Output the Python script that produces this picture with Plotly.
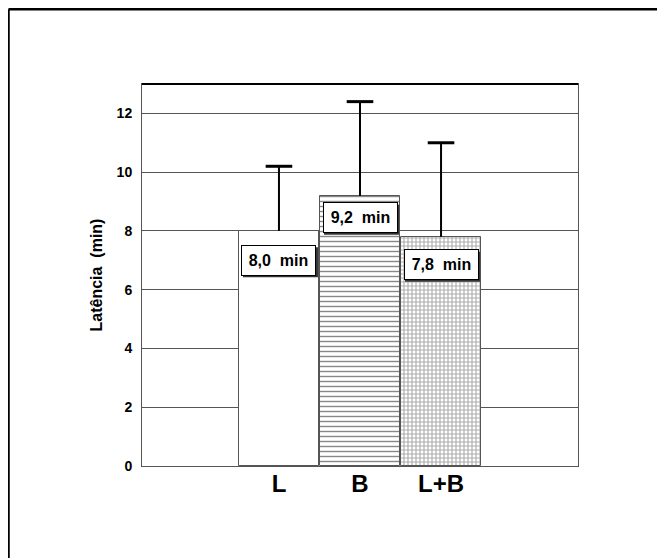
import plotly.graph_objects as go

categories = ["L", "B", "L+B"]
means = [8.0, 9.2, 7.8]
err_plus = [2.2, 3.2, 3.2]
labels = ["8,0  min", "9,2  min", "7,8  min"]
label_y = [7.0, 8.45, 6.85]
y_ticks = [0, 2, 4, 6, 8, 10, 12]

FONT = "Liberation Sans, Arial, Helvetica, sans-serif"

# page has an 8px body margin
W, H = 657, 550
L, R, T, B = 134, 87, 76, 92
pw, ph = W - L - R, H - T - B

fig = go.Figure()

fills = [
    dict(shape=""),
    dict(shape="-", size=5, solidity=0.28, fgcolor="#111111", bgcolor="white"),
    dict(shape="+", size=4, solidity=0.5, fgcolor="#5a5a5a", bgcolor="white"),
]
for i, c in enumerate(categories):
    fig.add_trace(go.Bar(
        x=[c], y=[means[i]], width=0.98,
        marker=dict(color="white", line=dict(color="#555555", width=1),
                    pattern=fills[i]),
        showlegend=False, hoverinfo="skip",
    ))

# upper error bars (one-sided, no cap at bar top)
for i, c in enumerate(categories):
    top = means[i] + err_plus[i]
    fig.add_trace(go.Scatter(
        x=[c, c], y=[means[i], top], mode="lines",
        line=dict(color="black", width=2), showlegend=False, hoverinfo="skip"))
    fig.add_trace(go.Scatter(
        x=[c], y=[top], mode="markers",
        marker=dict(symbol="line-ew-open", size=19, color="black",
                    line=dict(color="black", width=3)),
        showlegend=False, hoverinfo="skip"))

# label boxes with shadow
for i, c in enumerate(categories):
    fig.add_shape(type="rect", xref="x", yref="y", xsizemode="pixel", ysizemode="pixel",
                  xanchor=i, yanchor=label_y[i], x0=-36, x1=39, y0=-17, y1=13,
                  line=dict(width=0), fillcolor="#333333", layer="above")
    fig.add_annotation(x=c, y=label_y[i], text=labels[i], showarrow=False,
                       width=71, height=27,
                       font=dict(family=FONT, size=16, color="black", weight="bold"),
                       bgcolor="white", bordercolor="black", borderwidth=1, borderpad=1)

# outer frame (top and left edges)
fx = (0.5 - L) / pw
fy = (H - B - 1.2) / ph
fig.add_shape(type="line", xref="paper", yref="paper", x0=fx, x1=(W + 5 - L) / pw,
              y0=fy, y1=fy, line=dict(color="black", width=2.5))
fig.add_shape(type="line", xref="paper", yref="paper", x0=fx, x1=fx,
              y0=fy, y1=-(B + 5) / ph, line=dict(color="black", width=2.5))
# top border of plot
fig.add_shape(type="line", xref="paper", yref="paper", x0=0, x1=1, y0=1, y1=1,
              line=dict(color="black", width=2))

fig.update_layout(
    width=W, height=H,
    margin=dict(l=L, r=R, t=T, b=B),
    paper_bgcolor="white", plot_bgcolor="white",
    bargap=0,
    font=dict(family=FONT, color="black"),
    xaxis=dict(range=[-1.69, 3.69], showgrid=False, showline=True, linecolor="#555555",
               linewidth=1, mirror=True, ticks="", ticklen=0, ticklabelstandoff=-4,
               tickfont=dict(family=FONT, size=24, weight="bold")),
    yaxis=dict(range=[0, 13], tickvals=y_ticks, showgrid=True, gridcolor="#555555",
               gridwidth=1, showline=True, linecolor="#555555", linewidth=1, mirror=True,
               zeroline=False, ticks="", ticklabelstandoff=6,
               tickfont=dict(family=FONT, size=14, weight="bold"),
               title=dict(text="Latência  (min)", standoff=10,
                          font=dict(family=FONT, size=16, weight="bold"))),
)

fig.write_html("out.html")
